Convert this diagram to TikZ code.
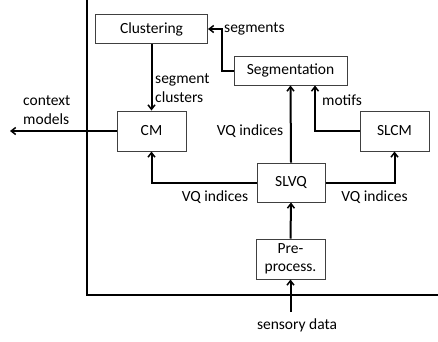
\documentclass[tikz,border=0pt]{standalone}
\usepackage{fontspec}
\setmainfont{Carlito}
\usetikzlibrary{arrows.meta}
\begin{document}
\begin{tikzpicture}[x=1pt,y=-1pt,
  every node/.style={font=\fontsize{15.5}{19}\selectfont},
  blk/.style={draw=black!75,line width=1,fill=white,minimum height=#1,inner sep=0pt},
  blk/.default=40,
  arr/.style={line width=2,-{Straight Barb[length=4.5,width=7,line width=1.5]}},
  lbl/.style={inner sep=0pt,align=left}]
\useasboundingbox (0,0) rectangle (438,341);
% system frame
\draw[line width=2.2] (87,0) -- (87,295) -- (438,295);
% blocks
\node[blk=29,minimum width=112] (clus) at (151.5,29) {Clustering};
\node[blk=29,minimum width=113] (seg) at (290.5,70.5) {Segmentation};
\node[blk,minimum width=69] (cm) at (151.5,131) {CM};
\node[blk,minimum width=69] (slcm) at (394.5,131) {SLCM};
\node[blk=39,minimum width=68] (slvq) at (291,182.5) {SLVQ};
\node[blk,minimum width=69,align=center,font=\fontsize{15.5}{17.5}\selectfont] (pre) at (290.5,259) {Pre-\\process.};
\coordinate (sd) at (290.5,312);
\coordinate (ctx) at (10,131);
% connectors
\draw[arr] (sd) -- (pre.south);
\draw[arr] (pre.north) -- (slvq.south);
\draw[arr] (slvq.north) -- (seg.south);
\draw[arr] (slvq.west) -| (cm.south);
\draw[arr] (slvq.east) -| (slcm.south);
\draw[arr] (slcm.west) -| ([xshift=24.5]seg.south);
\draw[arr] (seg.west) -- ++(-12,0) |- (clus.east);
\draw[arr] (clus.south) -- (cm.north);
\draw[arr] (cm.west) -- (ctx);
% labels
\node[lbl,anchor=west] at (224,29) {segments};
\node[lbl,anchor=west] at (155,88) {segment\\clusters};
\node[lbl,anchor=west] at (23,110.5) {context\\models};
\node[lbl] at (250,131) {VQ indices};
\node[lbl] at (342,100) {motifs};
\node[lbl] at (215,197) {VQ indices};
\node[lbl] at (374.5,197) {VQ indices};
\node[lbl] at (297,325) {sensory data};
\end{tikzpicture}
\end{document}
